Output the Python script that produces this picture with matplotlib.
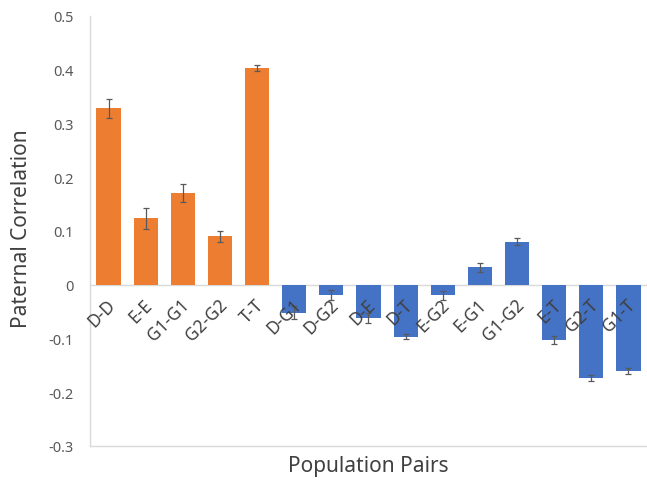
import matplotlib
matplotlib.use("Agg")
import matplotlib.pyplot as plt
import numpy as np

plt.rcParams['font.family'] = ['Noto Sans', 'DejaVu Sans']

pairs = ["D-D", "E-E", "G1-G1", "G2-G2", "T-T",
         "D-G1", "D-G2", "D-E", "D-T", "E-G2", "E-G1", "G1-G2", "E-T", "G2-T", "G1-T"]
correlation = [0.328, 0.123, 0.171, 0.090, 0.403,
               -0.052, -0.019, -0.062, -0.097, -0.020, 0.032, 0.080, -0.103, -0.174, -0.161]
errors = [0.018, 0.019, 0.017, 0.010, 0.006,
          0.012, 0.009, 0.010, 0.005, 0.009, 0.008, 0.007, 0.008, 0.006, 0.005]
same_population = [True] * 5 + [False] * 10

orange = "#ED7D31"
blue = "#4472C4"
colors = [orange if s else blue for s in same_population]

fig = plt.figure(figsize=(6.47, 4.81), dpi=100)
ax = fig.add_axes([0.139, 0.071, 0.861, 0.894])

x = np.arange(len(pairs))
ax.bar(x, correlation, width=0.65, color=colors, zorder=2)
ax.errorbar(x, correlation, yerr=errors, fmt='none', ecolor="#595959",
            elinewidth=0.9, capsize=2.5, capthick=0.9, zorder=3)

ax.axhline(0, color="#d9d9d9", linewidth=1.0, zorder=1)

ax.set_xlim(-0.5, len(pairs) - 0.5)
ax.set_ylim(-0.3, 0.5)
ax.set_yticks(np.arange(-0.3, 0.51, 0.1))
ax.set_yticklabels(["-0.3", "-0.2", "-0.1", "0", "0.1", "0.2", "0.3", "0.4", "0.5"])
ax.tick_params(axis='y', length=0, labelsize=10.5, colors="#595959", pad=12)
ax.set_xticks([])

for xi, name in zip(x, pairs):
    ax.text(xi - 0.06, -0.02, name, rotation=45, rotation_mode='anchor',
            ha='right', va='top', fontsize=12.5, color="#404040")

for side in ['top', 'right']:
    ax.spines[side].set_visible(False)
for side in ['left', 'bottom']:
    ax.spines[side].set_color("#d9d9d9")
    ax.spines[side].set_linewidth(1.0)

fig.text(0.033, 0.524, "Paternal Correlation", rotation=90, ha='center', va='center',
         fontsize=15, color="#404040")
fig.text(0.570, 0.031, "Population Pairs", ha='center', va='center',
         fontsize=15, color="#404040")

fig.savefig("out.png", dpi=100)
